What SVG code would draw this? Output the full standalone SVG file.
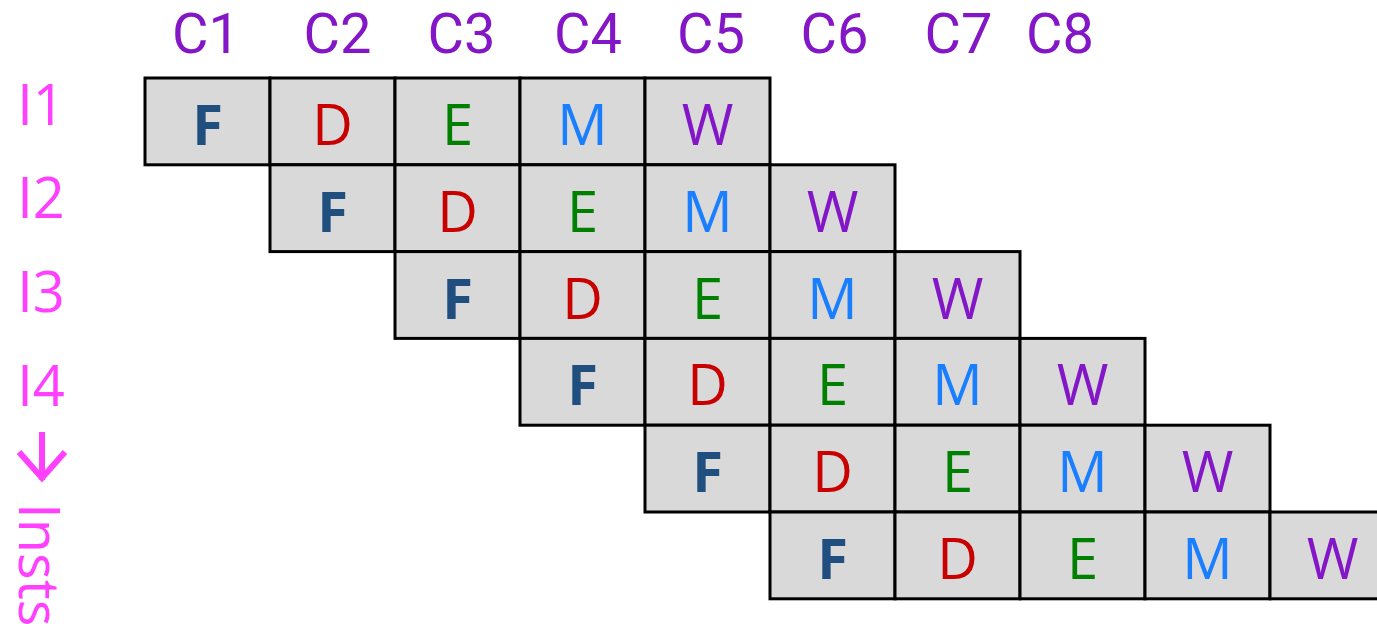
<svg xmlns="http://www.w3.org/2000/svg" width="1377" height="624" viewBox="0 0 1377 624">
<style>
text{font-family:"Open Sans","Noto Sans","Liberation Sans",sans-serif;font-size:56px;text-anchor:middle}
.cell{fill:#d9d9d9;stroke:#000;stroke-width:3;stroke-linejoin:miter}
.col{fill:#8316c6;font-family:Roboto,"Open Sans",sans-serif}
.ins{fill:#ff40ff}
.F{fill:#1f4e7f;font-weight:bold}
.D{fill:#c80000}
.E{fill:#008000}
.M{fill:#1a7fff}
.W{fill:#8316c6}
</style>
<rect width="1377" height="624" fill="#fff"/>
<g id="cycles">
<text class="col" x="206" y="53">C1</text>
<text class="col" x="337.5" y="53">C2</text>
<text class="col" x="461.5" y="53">C3</text>
<text class="col" x="588" y="53">C4</text>
<text class="col" x="711" y="53">C5</text>
<text class="col" x="834.5" y="53">C6</text>
<text class="col" x="958.5" y="53">C7</text>
<text class="col" x="1060" y="53">C8</text>
</g>
<g id="inst-labels">
<text class="ins" x="41" y="125">I1</text>
<text class="ins" x="41" y="218">I2</text>
<text class="ins" x="41" y="312">I3</text>
<text class="ins" x="41" y="406">I4</text>
</g>
<g id="insts-axis">
<path d="M42 432 V480 M19 452 L42 478 L65 452" fill="none" stroke="#ff40ff" stroke-width="6"/>
<text class="ins" style="text-anchor:start" transform="translate(19 503) rotate(90)" x="0" y="0">Insts</text>
</g>
<g id="I1">
<rect class="cell" x="145" y="78" width="125" height="86.8"/>
<rect class="cell" x="270" y="78" width="125" height="86.8"/>
<rect class="cell" x="395" y="78" width="125" height="86.8"/>
<rect class="cell" x="520" y="78" width="125" height="86.8"/>
<rect class="cell" x="645" y="78" width="125" height="86.8"/>
<text class="F" x="207.5" y="145">F</text>
<text class="D" x="332.5" y="145">D</text>
<text class="E" x="457.5" y="145">E</text>
<text class="M" x="582.5" y="145">M</text>
<text class="W" x="707.5" y="145">W</text>
</g>
<g id="I2">
<rect class="cell" x="270" y="164.8" width="125" height="86.8"/>
<rect class="cell" x="395" y="164.8" width="125" height="86.8"/>
<rect class="cell" x="520" y="164.8" width="125" height="86.8"/>
<rect class="cell" x="645" y="164.8" width="125" height="86.8"/>
<rect class="cell" x="770" y="164.8" width="125" height="86.8"/>
<text class="F" x="332.5" y="231.8">F</text>
<text class="D" x="457.5" y="231.8">D</text>
<text class="E" x="582.5" y="231.8">E</text>
<text class="M" x="707.5" y="231.8">M</text>
<text class="W" x="832.5" y="231.8">W</text>
</g>
<g id="I3">
<rect class="cell" x="395" y="251.6" width="125" height="86.8"/>
<rect class="cell" x="520" y="251.6" width="125" height="86.8"/>
<rect class="cell" x="645" y="251.6" width="125" height="86.8"/>
<rect class="cell" x="770" y="251.6" width="125" height="86.8"/>
<rect class="cell" x="895" y="251.6" width="125" height="86.8"/>
<text class="F" x="457.5" y="318.6">F</text>
<text class="D" x="582.5" y="318.6">D</text>
<text class="E" x="707.5" y="318.6">E</text>
<text class="M" x="832.5" y="318.6">M</text>
<text class="W" x="957.5" y="318.6">W</text>
</g>
<g id="I4">
<rect class="cell" x="520" y="338.4" width="125" height="86.8"/>
<rect class="cell" x="645" y="338.4" width="125" height="86.8"/>
<rect class="cell" x="770" y="338.4" width="125" height="86.8"/>
<rect class="cell" x="895" y="338.4" width="125" height="86.8"/>
<rect class="cell" x="1020" y="338.4" width="125" height="86.8"/>
<text class="F" x="582.5" y="405.4">F</text>
<text class="D" x="707.5" y="405.4">D</text>
<text class="E" x="832.5" y="405.4">E</text>
<text class="M" x="957.5" y="405.4">M</text>
<text class="W" x="1082.5" y="405.4">W</text>
</g>
<g id="I5">
<rect class="cell" x="645" y="425.2" width="125" height="86.8"/>
<rect class="cell" x="770" y="425.2" width="125" height="86.8"/>
<rect class="cell" x="895" y="425.2" width="125" height="86.8"/>
<rect class="cell" x="1020" y="425.2" width="125" height="86.8"/>
<rect class="cell" x="1145" y="425.2" width="125" height="86.8"/>
<text class="F" x="707.5" y="492.2">F</text>
<text class="D" x="832.5" y="492.2">D</text>
<text class="E" x="957.5" y="492.2">E</text>
<text class="M" x="1082.5" y="492.2">M</text>
<text class="W" x="1207.5" y="492.2">W</text>
</g>
<g id="I6">
<rect class="cell" x="770" y="512" width="125" height="86.8"/>
<rect class="cell" x="895" y="512" width="125" height="86.8"/>
<rect class="cell" x="1020" y="512" width="125" height="86.8"/>
<rect class="cell" x="1145" y="512" width="125" height="86.8"/>
<rect class="cell" x="1270" y="512" width="125" height="86.8"/>
<text class="F" x="832.5" y="579">F</text>
<text class="D" x="957.5" y="579">D</text>
<text class="E" x="1082.5" y="579">E</text>
<text class="M" x="1207.5" y="579">M</text>
<text class="W" x="1332.5" y="579">W</text>
</g>
<g id="connectors"></g>
</svg>
